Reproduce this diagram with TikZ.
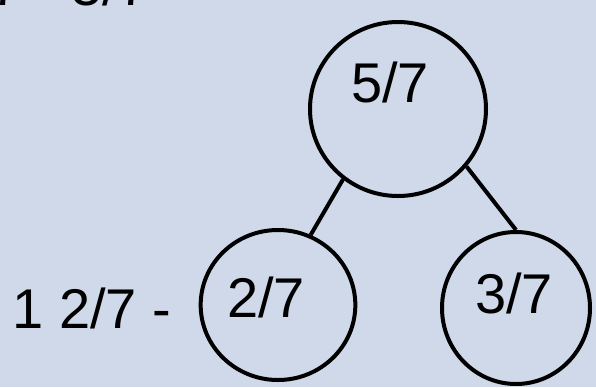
\documentclass[tikz,border=0pt]{standalone}
\usepackage{fontspec}
\setmainfont{Liberation Sans}
\usetikzlibrary{shapes.geometric}
\definecolor{SheetBlue}{RGB}{208,217,233}
\tikzset{
  part/.style={ellipse, draw=black, line width=3pt, inner sep=0pt},
  frac/.style={font=\fontsize{42}{48}\selectfont, inner sep=0pt, anchor=base},
  link/.style={line width=3pt},
}

\begin{document}
\begin{tikzpicture}[x=0.75pt, y=-0.75pt]
  \fill[SheetBlue] (0,0) rectangle (596,387);
  \useasboundingbox (0,0) rectangle (596,387);
  \clip (0,0) rectangle (596,387);
  % number bond
  \node[part, minimum width=132pt, minimum height=130.5pt] (whole) at (398,109) {};
  \node[part, minimum width=116pt, minimum height=112.5pt] (left) at (278,305) {};
  \node[part, minimum width=111pt, minimum height=114pt] (right) at (516,308) {};
  \node[frac] (wholetxt) at (390,102) {5/7};
  \node[frac] (lefttxt) at (266,317) {2/7};
  \node[frac] (righttxt) at (514,313) {3/7};
  \draw[link] (whole.-128) -- (left.65);
  \draw[link] (whole.-40) -- (right.north);
  % sums beside the bond
  \node[frac] (sum) at (92,328) {1 2/7 -};
  \node[frac, anchor=base east] (task) at (150,5) {1 2/7 - 5/7};
\end{tikzpicture}
\end{document}
